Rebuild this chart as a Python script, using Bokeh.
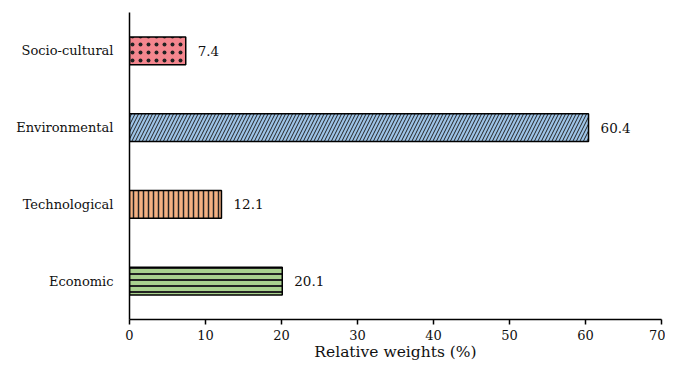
from bokeh.plotting import figure
from bokeh.models import ColumnDataSource, FactorRange, Range1d, FixedTicker
from bokeh.core.properties import value
from bokeh.embed import file_html
from bokeh.resources import INLINE

# Data (bottom to top)
categories = ["Economic", "Technological", "Environmental", "Socio-cultural"]
weights = [20.1, 12.1, 60.4, 7.4]
x_ticks = [0, 10, 20, 30, 40, 50, 60, 70]

# Styles
fill_colors = ["#A9D18E", "#F4B183", "#9DC3E6", "#F4868E"]
hatches = ["-", "|", "/", "."]
hatch_scales = [6, 5, 7, 8]
hatch_weights = [2, 1.5, 1.0, 0.7]

labels = [f"{v:.1f}" for v in weights]
src = ColumnDataSource(dict(cat=categories, w=weights, fc=fill_colors, hp=hatches,
                            hs=hatch_scales, hw=hatch_weights, lab=labels))

FONT = "DejaVu Serif"

p = figure(width=665, height=363, output_backend="svg", toolbar_location=None,
           y_range=FactorRange(*categories, range_padding=0),
           x_range=Range1d(0, 70),
           min_border_left=129, min_border_right=4, min_border_top=12, min_border_bottom=10)

p.hbar(y="cat", right="w", left=0, height=0.36, source=src,
       fill_color="fc", line_color="#000000", line_width=1.5,
       hatch_pattern="hp", hatch_scale="hs", hatch_weight="hw", hatch_color="#222222")

p.text(x="w", y="cat", text="lab", source=src, x_offset=12,
       text_baseline="middle", text_align="left",
       text_font=value(FONT), text_font_size="13.5px", text_color="#111111")

p.xgrid.visible = False
p.ygrid.visible = False
p.outline_line_color = None

xa = p.xaxis[0]
xa.ticker = FixedTicker(ticks=x_ticks)
xa.axis_label = "Relative weights (%)"
xa.axis_label_text_font = FONT
xa.axis_label_text_font_style = "normal"
xa.axis_label_text_font_size = "15.5px"
xa.axis_label_text_color = "#111111"
xa.axis_label_standoff = 0
xa.major_label_text_font = FONT
xa.major_label_text_font_size = "13px"
xa.major_label_text_color = "#111111"
xa.major_label_standoff = 5
xa.major_tick_out = 5
xa.major_tick_in = 0
xa.minor_tick_out = 0
xa.minor_tick_in = 0
xa.axis_line_width = 1.5
xa.axis_line_color = "#000000"
xa.major_tick_line_width = 1.5
xa.major_tick_line_color = "#000000"

ya = p.yaxis[0]
ya.major_label_text_font = FONT
ya.major_label_text_font_size = "13px"
ya.major_label_text_color = "#111111"
ya.major_tick_out = 0
ya.major_tick_in = 0
ya.major_label_standoff = 16
ya.axis_line_width = 1.5
ya.axis_line_color = "#000000"

open("out.html", "w").write(file_html(p, INLINE))
